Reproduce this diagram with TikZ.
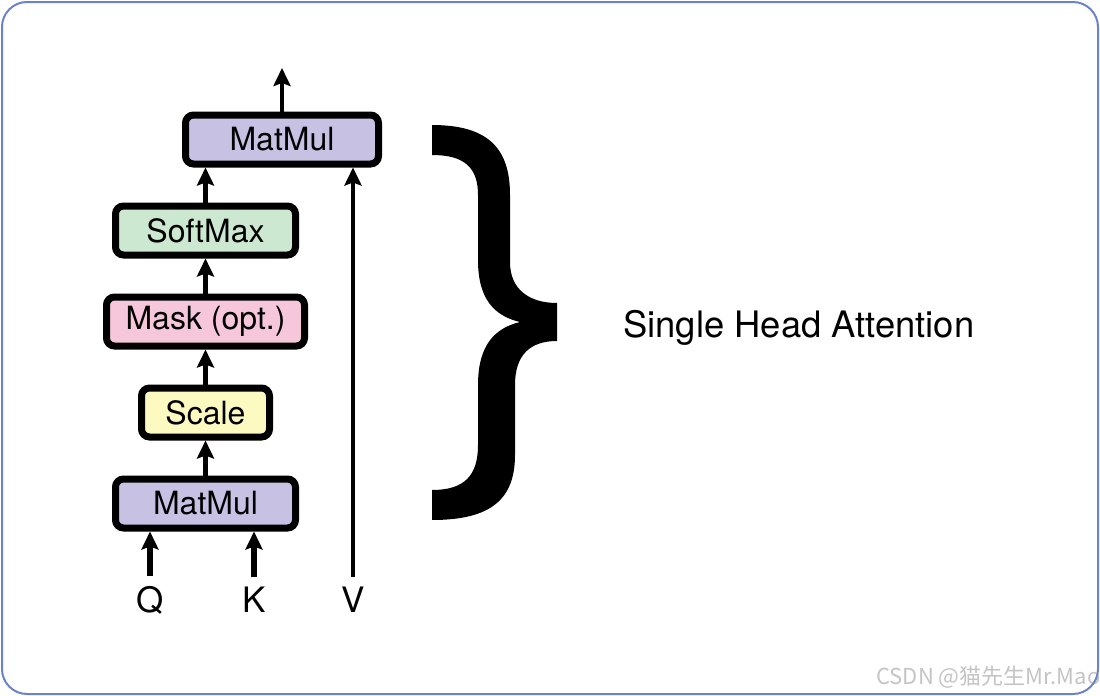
\documentclass[tikz,border=0pt]{standalone}
\usepackage{xcolor}
\usepackage{fontspec}
\setmainfont{TeX Gyre Heros}
\newfontfamily\cjk{Noto Sans CJK SC}
\usetikzlibrary{positioning,arrows.meta}

\definecolor{mmcol}{RGB}{199,194,227}
\definecolor{smcol}{RGB}{205,232,208}
\definecolor{maskcol}{RGB}{246,199,219}
\definecolor{scalecol}{RGB}{252,249,193}
\definecolor{framecol}{RGB}{108,131,201}
\definecolor{wmcol}{RGB}{196,196,196}

\begin{document}
\begin{tikzpicture}[x=0.5pt, y=-0.5pt, node distance=45.5pt, on grid,
    op/.style={draw, line width=3.5pt, rounded corners=4pt, inner sep=0pt,
      minimum height=24.5pt, font=\fontsize{16}{18}\selectfont},
    inp/.style={inner xsep=0pt, inner ysep=4.5pt, font=\fontsize{17.5}{20}\selectfont},
    arr/.style={line width=2.4pt, -{Stealth[length=9pt, width=8.5pt, inset=1.5pt]}}]
        \useasboundingbox (0,0) rectangle (1100,696);
        \node[op, fill=mmcol, minimum width=90pt]      (mm1)   at (205.5,503.5) {MatMul};
        \node[op, fill=scalecol, minimum width=64pt]   (scale) [above=of mm1]   {Scale};
        \node[op, fill=maskcol, minimum width=99pt]    (mask)  [above=of scale] {Mask (opt.)};
        \node[op, fill=smcol, minimum width=90pt]      (sm)    [above=of mask]  {SoftMax};
        \node[op, fill=mmcol, minimum width=96.5pt]    (mm2)   [above=of sm, xshift=38.25pt] {MatMul};
        \coordinate (out) at (282,68);
        \node[inp, anchor=base] (q) at (150,612) {Q};
        \node[inp, anchor=base] (k) at (254,612) {K};
        \node[inp, anchor=base] (v) at (353,612) {V};
        \path[arr]
        (mm1) edge (scale)
        (scale) edge (mask)
        (mask) edge (sm)
        (sm.north) edge (sm.north |- mm2.south)
        (mm2.north) edge (out)
        (v.north) edge (v.north |- mm2.south);
        \path[arr, line width=2.8pt]
        (q.north) edge (q.north |- mm1.south)
        (k.north) edge (k.north |- mm1.south);
        % big brace
        \fill (432,125) .. controls (490,125) and (510,150) .. (510,195)
          -- (510,262) .. controls (510,290) and (530,303) .. (557,303)
          -- (557,341) .. controls (530,341) and (515,355) .. (515,385)
          -- (515,455) .. controls (515,500) and (490,520) .. (432,520)
          -- (432,490) .. controls (465,490) and (478,475) .. (478,445)
          -- (478,385) .. controls (478,345) and (495,328) .. (520,322)
          .. controls (495,316) and (478,300) .. (478,260)
          -- (478,195) .. controls (478,168) and (465,155) .. (432,155) -- cycle;
        \node[anchor=base west, inner sep=0pt, font=\fontsize{18.2}{22}\selectfont] (sha) at (623,337) {Single Head Attention};
        \node[anchor=base west, inner sep=0pt, text=wmcol, font=\cjk\fontsize{11}{13}\selectfont] (wm) at (876,684) {CSDN @猫先生Mr.Mao};
        \draw[framecol, line width=1pt, rounded corners=12.5pt] (2,2) rectangle (1098,694);
\end{tikzpicture}
\end{document}
